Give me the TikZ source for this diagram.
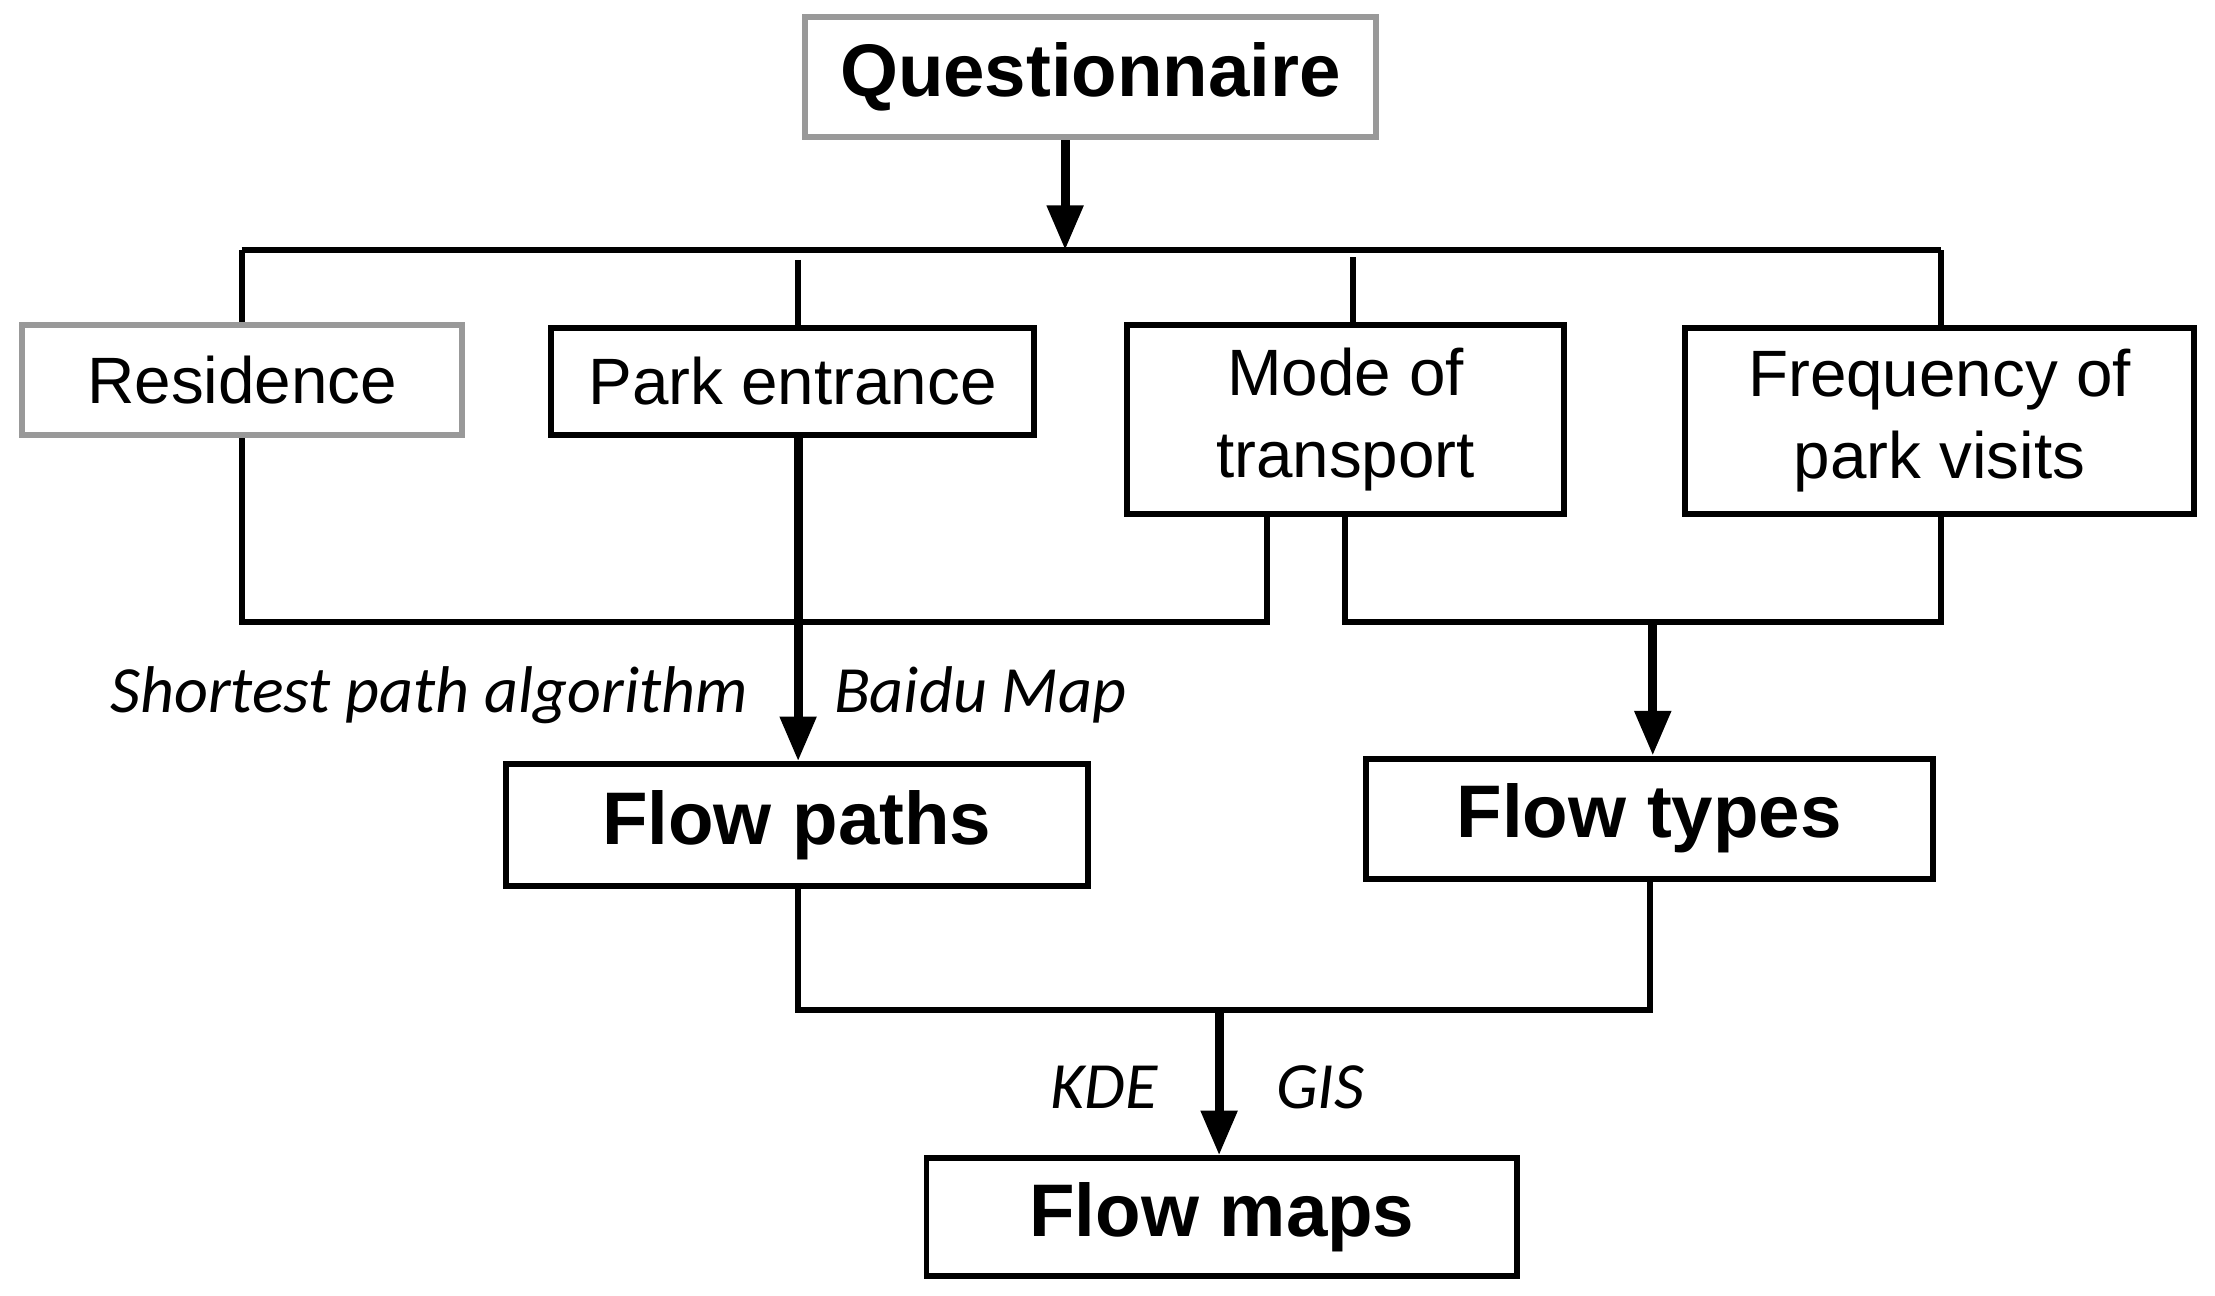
\documentclass[tikz,border=0pt]{standalone}
\usepackage{fontspec}
\setmainfont{Liberation Sans}
\newfontfamily\carlitofam{Carlito}
\usetikzlibrary{arrows.meta}
\begin{document}
\begin{tikzpicture}[x=0.01cm,y=-0.01cm,
 box/.style={draw=black,line width=1.2pt,inner sep=0pt,align=center,font=\fontsize{13.2}{16.5}\selectfont},
 gbox/.style={box,draw=gray!80},
 big/.style={font=\fontsize{15}{18}\selectfont\bfseries},
 lab/.style={font=\carlitofam\itshape\fontsize{13.3}{16}\selectfont},
 ln/.style={line width=1.2pt},
 ar/.style={ln,line width=1.8pt,-{Triangle[length=9pt,width=7pt]}}]
\useasboundingbox (0,0) rectangle (1568,917);
\node[gbox,big,minimum width=4.04cm,minimum height=0.85cm] (q) at (772,54.5) {Questionnaire};
\node[gbox,minimum width=3.11cm,minimum height=0.78cm] (r) at (171.5,269) {Residence};
\node[box,minimum width=3.42cm,minimum height=0.76cm] (p) at (561,270) {Park entrance};
\node[box,minimum width=3.09cm,minimum height=1.34cm] (m) at (952.5,297) {Mode of\\transport};
\node[box,minimum width=3.60cm,minimum height=1.32cm] (f) at (1373,298) {Frequency of\\park visits};
\node[box,big,minimum width=4.12cm,minimum height=0.86cm] (fp) at (564,584) {Flow paths};
\node[box,big,minimum width=4.01cm,minimum height=0.85cm] (ft) at (1167.5,579.5) {Flow types};
\node[box,big,minimum width=4.18cm,minimum height=0.83cm] (fm) at (865,861.5) {Flow maps};
\coordinate (j1) at (754,177);
\draw[ar] (q.south -| j1) -- (j1);
\draw[ln] (171,177) -- (1374,177);
\draw[ln] (171,177) -- (r.north -| 171,0);
\draw[ln] (565,184) -- (p.north -| 565,0);
\draw[ln] (958,182) -- (m.north -| 958,0);
\draw[ln] (1374,177) -- (f.north -| 1374,0);
\draw[ln] (r.south -| 171,0) -- (171,440) -- (897,440) -- (m.south -| 897,0);
\draw[ar] (p.south -| 565,0) -- (fp.north -| 565,0);
\draw[ln] (m.south -| 952,0) -- (952,440) -- (1374,440) -- (f.south -| 1374,0);
\coordinate (j2) at (1170,440);
\draw[ar] (j2) -- (ft.north -| j2);
\draw[ln] (fp.south -| 565,0) -- (565,715) -- (1168,715) -- (ft.south -| 1168,0);
\coordinate (j3) at (863,715);
\draw[ar] (j3) -- (fm.north -| j3);
\node[lab,anchor=east] (l1) at (542,492) {Shortest path algorithm};
\node[lab,anchor=west] (l2) at (578,492) {Baidu Map};
\node[lab,anchor=east] (l3) at (832,770) {KDE};
\node[lab,anchor=west] (l4) at (891,770) {GIS};
\end{tikzpicture}
\end{document}
